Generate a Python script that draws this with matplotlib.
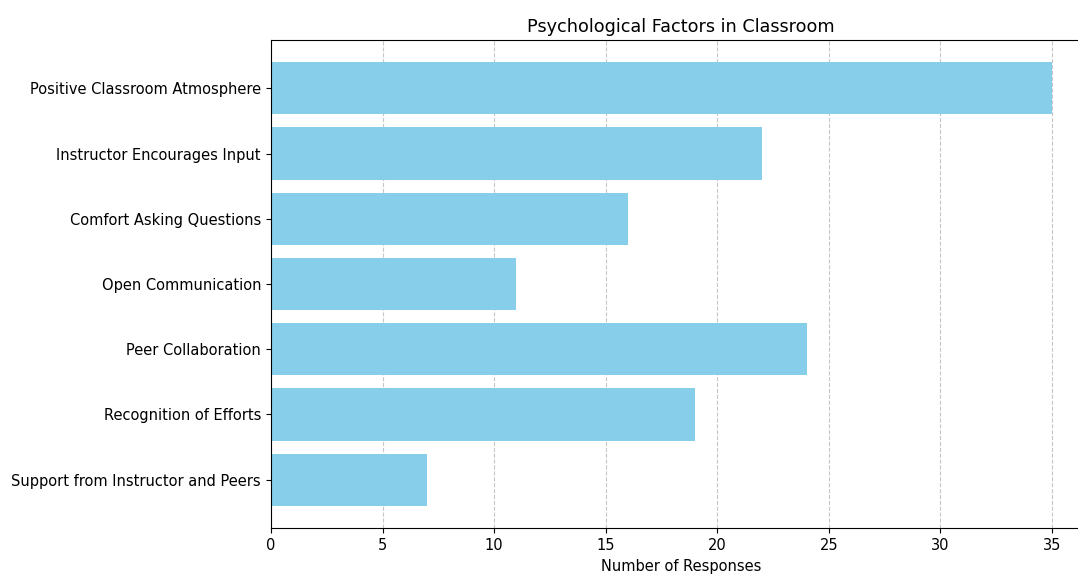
import matplotlib.pyplot as plt

factors = [
    "Positive Classroom Atmosphere",
    "Instructor Encourages Input",
    "Comfort Asking Questions",
    "Open Communication",
    "Peer Collaboration",
    "Recognition of Efforts",
    "Support from Instructor and Peers",
]
responses = [35, 22, 16, 11, 24, 19, 7]

plt.rcParams['font.size'] = 10.55
plt.rcParams['xtick.major.size'] = 3.7
plt.rcParams['ytick.major.size'] = 3.7

fig = plt.figure(figsize=(10.78, 5.74), dpi=100)
# axes run past the right edge, as in the reference crop
ax = fig.add_axes([271 / 1078, 46 / 574, 820 / 1078, 488 / 574])

ax.barh(factors, responses, color="skyblue")
ax.invert_yaxis()
ax.set_xlabel("Number of Responses")
ax.set_title("Psychological Factors in Classroom", fontsize=12.66)
ax.grid(axis="x", linestyle="--", alpha=0.7)
ax.set_axisbelow(True)

fig.savefig("out.png", dpi=100)
